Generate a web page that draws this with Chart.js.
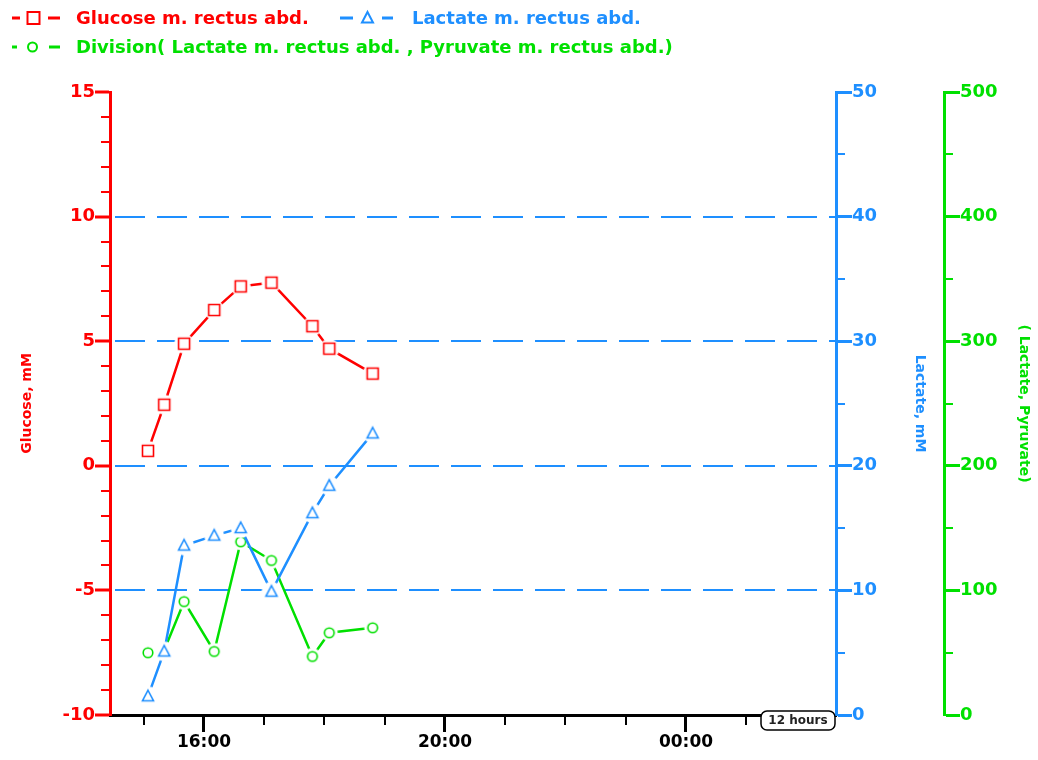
<!DOCTYPE html>
<html>
<head>
<meta charset="utf-8">
<title>Glucose / Lactate m. rectus abd.</title>
<script src="https://cdn.jsdelivr.net/npm/chart.js@4.4.1/dist/chart.umd.min.js"></script>
<style>
  html, body { margin: 0; padding: 0; background: #fff; }
  #wrap { width: 1038px; height: 760px; position: relative; }
</style>
</head>
<body>
<div id="wrap"><canvas id="labChart"></canvas></div>
<script>
// sample times as hours of day (24 = 00:00 next day)
const sampleHours = [15.07, 15.34, 15.67, 16.17, 16.61, 17.12, 17.80, 18.08, 18.80];
const glucose = [0.6, 2.45, 4.9, 6.25, 7.2, 7.35, 5.6, 4.7, 3.7];
const lactate = [1.5, 5.1, 13.6, 14.4, 15.0, 9.9, 16.2, 18.4, 22.6];
const lacPyrRatio = [50, 52, 91, 51, 139, 124, 47, 66, 70];

const timeTicks = [16, 20, 24];
const timeLabels = ['16:00', '20:00', '00:00'];
const glucoseTicks = [-10, -5, 0, 5, 10, 15];
const lactateTicks = [0, 10, 20, 30, 40, 50];
const ratioTicks = [0, 100, 200, 300, 400, 500];
const gridLevels = [-5, 0, 5, 10];

const RED = '#ff0000';
const BLUE = '#1e8fff';
const GREEN = '#00e000';
const FONT = '"DejaVu Sans", "Liberation Sans", sans-serif';

document.addEventListener("DOMContentLoaded", function () {

    function toPoints(values) {
        return values.map((v, i) => ({ x: sampleHours[i], y: v }));
    }

    function setTicks(list) {
        return function (scale) {
            scale.ticks = list.map(v => ({ value: v }));
        };
    }

    // marker image with a white ring, so the line stops short of it
    function makeMarker(shape, color) {
        const c = document.createElement('canvas');
        c.width = 26; c.height = 26;
        const g = c.getContext('2d');
        const m = 13;
        g.fillStyle = '#fff';
        g.beginPath();
        g.arc(m, m, shape === 'circle' ? 8.5 : 10, 0, Math.PI * 2);
        g.fill();
        g.strokeStyle = color;
        g.lineWidth = 1.6;
        g.beginPath();
        if (shape === 'rect') {
            g.rect(m - 5.5, m - 5.5, 11, 11);
        } else if (shape === 'triangle') {
            g.moveTo(m, m - 6);
            g.lineTo(m + 5.5, m + 4.5);
            g.lineTo(m - 5.5, m + 4.5);
            g.closePath();
        } else {
            g.arc(m, m, 4.8, 0, Math.PI * 2);
        }
        g.stroke();
        return c;
    }

    // short ticks between the labelled ones
    function drawMinorY(ctx, scale, from, to, step, every, color, side) {
        const x0 = side === 'left' ? scale.right : scale.left;
        const dir = side === 'left' ? -1 : 1;
        ctx.strokeStyle = color;
        ctx.lineWidth = 2;
        for (let v = from; v <= to; v += step) {
            if (v % every === 0) continue;
            const y = Math.round(scale.getPixelForValue(v));
            ctx.beginPath();
            ctx.moveTo(x0, y);
            ctx.lineTo(x0 + dir * 9, y);
            ctx.stroke();
        }
    }

    function drawLegendItem(ctx, item) {
        ctx.strokeStyle = item.color;
        ctx.fillStyle = item.color;
        ctx.lineWidth = 3;
        ctx.beginPath();
        ctx.moveTo(item.d1[0], item.y); ctx.lineTo(item.d1[1], item.y);
        ctx.moveTo(item.d2[0], item.y); ctx.lineTo(item.d2[1], item.y);
        ctx.stroke();
        ctx.lineWidth = 2;
        ctx.beginPath();
        const m = item.m;
        if (item.marker === 'rect') {
            ctx.rect(m - 6, item.y - 6, 12, 12);
        } else if (item.marker === 'triangle') {
            ctx.moveTo(m, item.y - 6);
            ctx.lineTo(m + 5.5, item.y + 4.5);
            ctx.lineTo(m - 5.5, item.y + 4.5);
            ctx.closePath();
        } else {
            ctx.arc(m, item.y, 4.5, 0, Math.PI * 2);
        }
        ctx.stroke();
        ctx.font = 'bold 18px ' + FONT;
        ctx.textBaseline = 'middle';
        ctx.textAlign = 'left';
        ctx.fillText(item.label, item.tx, item.y + 1);
    }

    const extras = {
        id: 'extras',
        afterDraw(chart) {
            const ctx = chart.ctx;
            const s = chart.scales;
            ctx.save();

            drawMinorY(ctx, s.yGlu, -10, 15, 1, 5, RED, 'left');
            drawMinorY(ctx, s.yLac, 0, 50, 5, 10, BLUE, 'right');
            drawMinorY(ctx, s.yRatio, 0, 500, 50, 100, GREEN, 'right');

            // hourly ticks on time axis
            ctx.strokeStyle = '#000';
            ctx.lineWidth = 2;
            for (let h = 15; h <= 26; h++) {
                if (timeTicks.includes(h)) continue;
                const x = Math.round(s.x.getPixelForValue(h));
                ctx.beginPath();
                ctx.moveTo(x, s.x.top);
                ctx.lineTo(x, s.x.top + 10);
                ctx.stroke();
            }

            // "12 hours" span box
            const bx = chart.chartArea.right - 75, by = chart.chartArea.bottom - 4;
            ctx.fillStyle = '#fff';
            ctx.strokeStyle = '#000';
            ctx.lineWidth = 1.5;
            ctx.beginPath();
            ctx.roundRect(bx, by, 74, 19, 6);
            ctx.fill();
            ctx.stroke();
            ctx.fillStyle = '#222';
            ctx.font = 'bold 12px ' + FONT;
            ctx.textAlign = 'center';
            ctx.textBaseline = 'middle';
            ctx.fillText('12 hours', bx + 37, by + 10);

            // legend
            drawLegendItem(ctx, { color: RED, y: 18, d1: [12, 20], m: 33.5, d2: [48, 60], marker: 'rect', tx: 76, label: 'Glucose m. rectus abd.' });
            drawLegendItem(ctx, { color: BLUE, y: 18, d1: [340, 353], m: 367.5, d2: [382, 393], marker: 'triangle', tx: 412, label: 'Lactate m. rectus abd.' });
            drawLegendItem(ctx, { color: GREEN, y: 47, d1: [12, 17], m: 32.5, d2: [49, 60], marker: 'circle', tx: 76, label: 'Division( Lactate m. rectus abd. , Pyruvate m. rectus abd.)' });

            ctx.restore();
        }
    };

    const ctx = document.getElementById("labChart");

    new Chart(ctx, {
        type: 'line',
        data: {
            datasets: [{
                label: 'Glucose m. rectus abd.',
                data: toPoints(glucose),
                yAxisID: 'yGlu',
                borderColor: RED,
                borderWidth: 2.5,
                pointStyle: makeMarker('rect', RED),
                pointRadius: 7
            }, {
                label: 'Lactate m. rectus abd.',
                data: toPoints(lactate),
                yAxisID: 'yLac',
                borderColor: BLUE,
                borderWidth: 2.5,
                pointStyle: makeMarker('triangle', BLUE),
                pointRadius: 7
            }, {
                label: 'Division( Lactate m. rectus abd. , Pyruvate m. rectus abd.)',
                data: toPoints(lacPyrRatio),
                yAxisID: 'yRatio',
                borderColor: GREEN,
                borderWidth: 2.5,
                pointStyle: makeMarker('circle', GREEN),
                pointRadius: 6
            }]
        },
        options: {
            responsive: true,
            maintainAspectRatio: false,
            animation: false,
            layout: { padding: { top: 92, left: 0, right: 0, bottom: 0 } },
            plugins: {
                legend: { display: false },
                tooltip: { enabled: false }
            },
            scales: {
                x: {
                    type: 'linear',
                    position: 'bottom',
                    min: 14.44,
                    max: 26.49,
                    afterBuildTicks: setTicks(timeTicks),
                    afterFit: s => { s.height = 45; },
                    ticks: {
                        callback: v => timeLabels[timeTicks.indexOf(v)],
                        color: '#000',
                        font: { family: FONT, size: 17, weight: 'bold' },
                        padding: 0,
                        maxRotation: 0,
                        autoSkip: false
                    },
                    grid: { drawOnChartArea: false, tickLength: 17, tickWidth: 3, tickColor: '#000' },
                    border: { color: '#000', width: 3 }
                },
                yGlu: {
                    type: 'linear',
                    position: 'left',
                    min: -10,
                    max: 15,
                    afterBuildTicks: setTicks(glucoseTicks),
                    afterFit: s => { s.width = 110; },
                    ticks: {
                        color: RED,
                        font: { family: FONT, size: 18, weight: 'bold' },
                        padding: 0
                    },
                    grid: {
                        color: c => (c.tick && gridLevels.includes(c.tick.value)) ? BLUE : 'rgba(0,0,0,0)',
                        lineWidth: 2,
                        tickLength: 15,
                        tickWidth: 3,
                        tickColor: RED
                    },
                    border: { color: RED, width: 3, dash: [30, 12], dashOffset: 39 },
                    title: {
                        display: true,
                        text: 'Glucose, mM',
                        color: RED,
                        font: { family: FONT, size: 14, weight: 'bold' },
                        padding: { top: 18.6, bottom: 0 }
                    }
                },
                yLac: {
                    type: 'linear',
                    position: 'right',
                    weight: 0,
                    min: 0,
                    max: 50,
                    afterBuildTicks: setTicks(lactateTicks),
                    afterFit: s => { s.width = 108; },
                    ticks: {
                        color: BLUE,
                        font: { family: FONT, size: 18, weight: 'bold' },
                        padding: 0
                    },
                    grid: { drawOnChartArea: false, tickLength: 16, tickWidth: 3, tickColor: BLUE },
                    border: { color: BLUE, width: 3 },
                    title: {
                        display: true,
                        text: 'Lactate, mM',
                        color: BLUE,
                        font: { family: FONT, size: 14, weight: 'bold' },
                        padding: { top: 15.6, bottom: 0 }
                    }
                },
                yRatio: {
                    type: 'linear',
                    position: 'right',
                    weight: 1,
                    min: 0,
                    max: 500,
                    afterBuildTicks: setTicks(ratioTicks),
                    afterFit: s => { s.width = 94; },
                    ticks: {
                        color: GREEN,
                        font: { family: FONT, size: 18, weight: 'bold' },
                        padding: 0
                    },
                    grid: { drawOnChartArea: false, tickLength: 16, tickWidth: 3, tickColor: GREEN },
                    border: { color: GREEN, width: 3 },
                    title: {
                        display: true,
                        text: '( Lactate, Pyruvate)',
                        color: GREEN,
                        font: { family: FONT, size: 14, weight: 'bold' },
                        padding: { top: 5.6, bottom: 0 }
                    }
                }
            }
        },
        plugins: [extras]
    });
});
</script>
</body>
</html>
